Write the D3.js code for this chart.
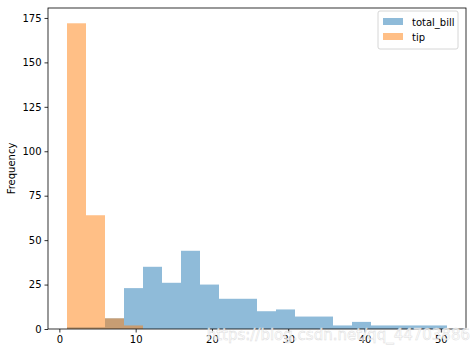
<!DOCTYPE html>
<html lang="en">
<head>
<meta charset="UTF-8">
<script src="https://d3js.org/d3.v7.min.js"></script>
<style>
  body { margin: 0; background: #fff; }
  svg { font-family: "DejaVu Sans", sans-serif; }
</style>
</head>
<body>
<div id="container"></div>
<script>
// shared bin edges (20 bins from 1.0 to 50.81)
var binMin = 1.0, binMax = 50.81, nBins = 20;
var seriesNames = ["total_bill", "tip"];
var totalBill = [1, 1, 6, 23, 35, 26, 44, 25, 17, 17, 10, 11, 7, 7, 2, 4, 2, 2, 2, 2];
var tip = [172, 64, 6, 2, 0, 0, 0, 0, 0, 0, 0, 0, 0, 0, 0, 0, 0, 0, 0, 0];
var xTicks = [0, 10, 20, 30, 40, 50];
var yTicks = [0, 25, 50, 75, 100, 125, 150, 175];

var width = 475, height = 354;
var margin = {left: 48, top: 8, right: 9, bottom: 25};
var w = width - margin.left - margin.right;
var h = height - margin.top - margin.bottom;

var svg = d3.select("#container").append("svg").attr("width", width).attr("height", height);
var g = svg.append("g").attr("transform", `translate(${margin.left},${margin.top})`);

var binW = (binMax - binMin) / nBins;
var pad = (binMax - binMin) * 0.05;
var x = d3.scaleLinear().domain([binMin - pad, binMax + pad]).range([0, w]);
var y = d3.scaleLinear().domain([0, 172 * 1.05]).range([h, 0]);

var colors = ["#1f77b4", "#ff7f0e"];
[totalBill, tip].forEach(function(vals, k) {
  g.append("g").selectAll("rect").data(vals).join("rect")
    .attr("x", (d, i) => x(binMin + i * binW))
    .attr("width", x(binMin + binW) - x(binMin))
    .attr("y", d => y(d))
    .attr("height", d => h - y(d))
    .attr("fill", colors[k]).attr("fill-opacity", 0.5);
});

// axes
var xa = g.append("g").attr("transform", `translate(0,${h})`)
  .call(d3.axisBottom(x).tickValues(xTicks).tickSize(3.5).tickPadding(3));
var ya = g.append("g").call(d3.axisLeft(y).tickValues(yTicks).tickSize(3.5).tickPadding(3));
[xa, ya].forEach(a => {
  a.select(".domain").remove();
  a.selectAll("text").attr("font-size", 10).attr("fill", "#000").attr("font-family", "DejaVu Sans");
  a.selectAll("line").attr("stroke", "#000").attr("stroke-width", 0.8);
});
g.append("rect").attr("width", w).attr("height", h)
  .attr("fill", "none").attr("stroke", "#000").attr("stroke-width", 0.8);

svg.append("text").attr("transform", `translate(15,${margin.top + h / 2}) rotate(-90)`)
  .attr("text-anchor", "middle").attr("font-size", 10).text("Frequency");

// legend
var lg = g.append("g").attr("transform", `translate(${w - 88},3)`);
lg.append("rect").attr("width", 80).attr("height", 38).attr("rx", 2)
  .attr("fill", "#fff").attr("fill-opacity", 0.8).attr("stroke", "#ccc").attr("stroke-width", 0.8);
seriesNames.forEach(function(name, k) {
  var row = lg.append("g").attr("transform", `translate(5,${6 + k * 15})`);
  row.append("rect").attr("width", 20).attr("height", 7).attr("y", 1)
    .attr("fill", colors[k]).attr("fill-opacity", 0.5);
  row.append("text").attr("x", 29).attr("y", 9).attr("font-size", 10).text(name);
});

// watermark
svg.append("text").attr("x", 470).attr("y", 340).attr("text-anchor", "end")
  .attr("font-size", 15).attr("fill", "#fff").attr("fill-opacity", 0.75)
  .attr("stroke", "#ddd").attr("stroke-width", 0.5)
  .text("https://blog.csdn.net/qq_44703886");
</script>
</body>
</html>
